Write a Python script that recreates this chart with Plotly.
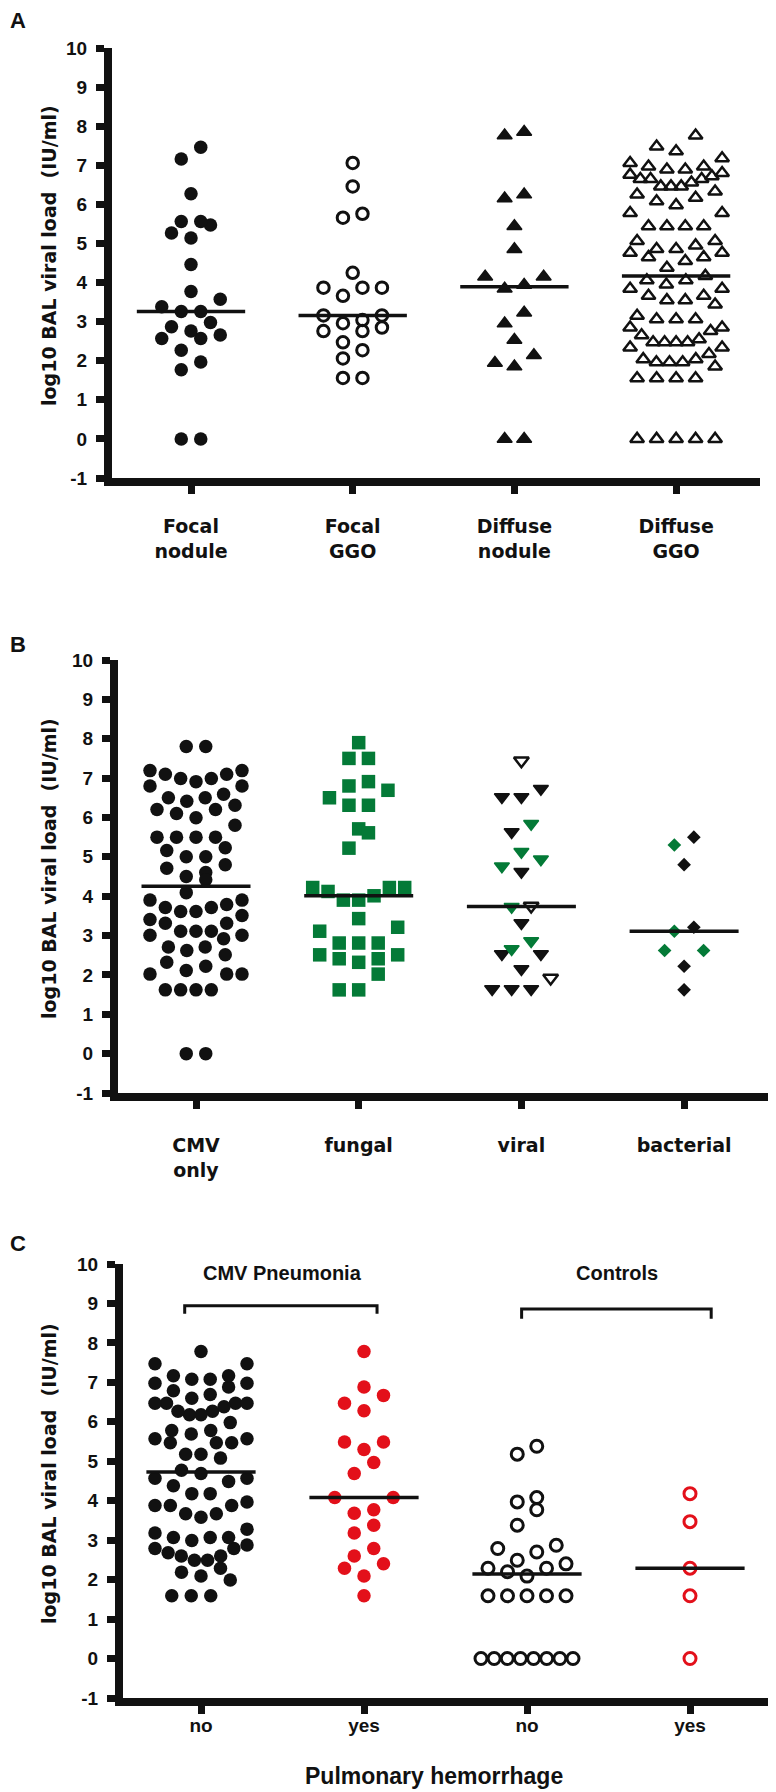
import numpy as np
import plotly.graph_objects as go

INK = "#111111"
GREEN = "#047a37"
RED = "#e3101a"
NUM_FONT = "Liberation Sans, Arial, sans-serif"
TXT_FONT = "DejaVu Sans, sans-serif"

# ---- panel A: CT pattern ----
cats_a = ["Focal<br>nodule", "Focal<br>GGO", "Diffuse<br>nodule", "Diffuse<br>GGO"]
focal_nodule = [7.46, 7.16, 6.27, 5.56, 5.47, 5.56, 5.14, 5.27, 4.46, 3.77, 3.57, 3.26, 3.26,
                3.38, 2.87, 2.98, 2.66, 2.57, 2.57, 2.76, 2.27, 1.97, 1.77, 0, 0]
focal_ggo = [7.06, 6.46, 5.76, 5.66, 4.25, 3.87, 3.87, 3.87, 3.66, 3.16, 3.16, 3.04, 2.96, 2.85,
             2.76, 2.76, 2.47, 2.27, 2.06, 1.56, 1.56]
diffuse_nodule = [7.76, 7.85, 6.25, 6.15, 5.44, 4.85, 4.15, 4.15, 3.84, 3.94, 3.23, 2.95, 2.53,
                  2.14, 1.94, 1.85, 0, 0]
diffuse_ggo = [7.76, 7.48, 7.36, 7.18, 7.06, 6.97, 6.89, 6.89, 6.97, 6.76,
               6.65, 6.65, 6.56, 6.72, 6.80, 6.65, 6.46, 6.33, 6.25, 6.46,
               6.46, 6.17, 6.08, 5.98, 5.78, 5.78, 5.44, 5.44, 5.44, 5.44,
               5.06, 5.06, 4.86, 4.76, 4.65, 4.55, 4.65, 4.76, 4.86, 4.95,
               4.38, 4.17, 3.84, 4.06, 3.95, 4.06, 3.84, 3.66, 3.55, 3.44,
               3.55, 3.66, 3.06, 3.06, 2.85, 2.76, 2.85, 3.06, 3.15, 2.65,
               2.47, 2.47, 2.34, 2.17, 2.34, 2.47, 2.47, 2.55, 1.96, 1.96,
               2.04, 2.04, 1.85, 1.96, 1.55, 1.55, 1.55, 1.55, 0, 0, 0, 0, 0]

# ---- panel B: co-infection ----
cats_b = ["CMV<br>only", "fungal", "viral", "bacterial"]
cmv_only = [7.80, 7.80, 7.19, 7.10, 6.99, 6.91, 6.99, 7.10, 7.19, 6.80, 6.80, 6.50, 6.41, 6.31,
            6.50, 6.59, 6.20, 6.10, 5.99, 6.20, 5.80, 5.50, 5.50, 5.50, 5.50, 5.23, 5.16, 5.00,
            5.00, 4.80, 4.71, 4.60, 4.50, 4.42, 4.09, 3.90, 3.79, 3.71, 3.61, 3.41, 3.51, 3.61,
            3.71, 3.90, 3.31, 3.11, 3.11, 3.01, 2.92, 3.01, 3.11, 3.31, 2.71, 2.51, 2.62, 2.71,
            2.11, 2.02, 2.22, 2.32, 2.02, 2.02, 1.62, 1.62, 1.62, 1.62, 0, 0]
fungal = [7.90, 7.50, 7.50, 6.69, 6.91, 6.80, 6.50, 6.31, 6.31, 5.71, 5.61, 5.22, 4.22, 4.22,
          4.22, 4.12, 3.90, 4.01, 3.90, 3.43, 3.21, 3.11, 2.81, 2.81, 2.81, 2.51, 2.51, 2.41,
          2.41, 2.32, 2.02, 1.62, 1.62]
viral = [7.44, 6.73, 6.52, 6.52, 5.84, 5.63, 5.13, 4.94, 4.76, 4.62, 3.75, 3.73, 3.32, 2.86,
         2.66, 2.53, 2.53, 2.15, 1.92, 1.64, 1.64, 1.64]
viral_type = ["open", "black", "black", "black", "green", "black", "green", "green", "green",
              "black", "open", "green", "black", "green", "green", "black", "black", "black",
              "open", "black", "black", "black"]
bacterial = [5.50, 5.30, 4.80, 3.21, 3.11, 2.62, 2.62, 2.22, 1.62]
bacterial_type = ["black", "green", "black", "black", "green", "green", "green", "black", "black"]

# ---- panel C: pulmonary hemorrhage ----
cats_c = ["no", "yes", "no", "yes"]
pneu_no = [7.78, 7.47, 7.47, 7.17, 7.08, 6.98, 6.88, 6.69, 6.79, 6.98, 7.08, 7.17,
           6.47, 6.47, 6.60, 6.27, 6.18, 6.18, 6.47, 6.27, 6.38, 6.47,
           5.98, 5.78, 5.57, 5.47, 5.47, 5.47, 5.57, 5.69, 5.78,
           5.18, 5.08, 5.18, 4.77, 4.69, 4.57, 4.38, 4.49, 4.57, 4.18, 4.18,
           3.88, 3.88, 3.67, 3.58, 3.67, 3.88, 3.97,
           3.28, 3.07, 3.07, 2.88, 2.79, 2.79, 2.99, 3.07, 3.18,
           2.60, 2.49, 2.29, 2.19, 2.49, 2.60, 2.68, 2.09, 1.99, 1.59, 1.59, 1.59]
pneu_yes = [7.78, 6.88, 6.67, 6.47, 6.28, 5.49, 5.49, 5.30, 4.97, 4.69, 4.08, 4.08, 3.68, 3.77,
            3.38, 3.18, 2.79, 2.60, 2.40, 2.29, 2.09, 1.59]
ctrl_no = [5.38, 5.18, 4.08, 3.97, 3.77, 3.38, 2.87, 2.79, 2.70, 2.49, 2.29, 2.20, 2.29, 2.40,
           2.09, 1.59, 1.59, 1.59, 1.59, 1.59, 0, 0, 0, 0, 0, 0, 0, 0]
ctrl_yes = [4.18, 3.47, 2.29, 1.59, 0]

y_ticks = list(range(-1, 11))


def swarm(vals, px_per_x, bin_h=0.4, gap=19.5, max_w=92):
    # column scatter: group close values into rows, spread each row symmetrically
    vals = np.asarray(vals, float)
    order = np.argsort(vals, kind="stable")
    offs = np.zeros(len(vals))
    i = 0
    while i < len(order):
        j = i
        while j < len(order) and vals[order[j]] - vals[order[i]] < bin_h:
            j += 1
        idx = order[i:j]
        n = len(idx)
        step = gap if n < 2 else min(gap, max_w / (n - 1))
        slots = (np.arange(n) - (n - 1) / 2) * step
        slots = slots[np.argsort(np.abs(slots), kind="stable")]
        offs[idx] = slots / px_per_x
        i = j
    return offs


fig = go.Figure()


def add_group(vals, pos, px_per_x, xa, ya, styles, kinds=None):
    vals = np.asarray(vals, float)
    x = pos + swarm(vals, px_per_x)
    if kinds is None:
        kinds = ["_"] * len(vals)
    kinds = np.asarray(kinds)
    for k, marker in styles.items():
        m = kinds == k
        fig.add_trace(go.Scatter(x=x[m], y=vals[m], mode="markers", marker=marker,
                                 xaxis=xa, yaxis=ya, hoverinfo="y"))
    med = float(np.median(vals))
    fig.add_trace(go.Scatter(x=[pos - 0.335, pos + 0.335], y=[med, med], mode="lines",
                             line=dict(color=INK, width=3.5), xaxis=xa, yaxis=ya,
                             hoverinfo="skip"))


dot = lambda c: dict(symbol="circle", size=13.5, color=c, line=dict(width=0))
ring = lambda c: dict(symbol="circle-open", size=11.5, color=c, line=dict(width=3, color=c))

# A
add_group(focal_nodule, 0, 161.7, "x", "y", {"_": dot(INK)})
add_group(focal_ggo, 1, 161.7, "x", "y", {"_": ring(INK)})
add_group(diffuse_nodule, 2, 161.7, "x", "y",
          {"_": dict(symbol="triangle-up", size=13, color=INK, line=dict(width=1.5, color=INK))})
add_group(diffuse_ggo, 3, 161.7, "x", "y",
          {"_": dict(symbol="triangle-up-open", size=12, color=INK, line=dict(width=2.5, color=INK))})

# B
add_group(cmv_only, 0, 162.7, "x2", "y2", {"_": dot(INK)})
add_group(fungal, 1, 162.7, "x2", "y2",
          {"_": dict(symbol="square", size=13.5, color=GREEN, line=dict(width=0))})
tri = lambda c: dict(symbol="triangle-down", size=13, color=c, line=dict(width=1.5, color=c))
add_group(viral, 2, 162.7, "x2", "y2",
          {"black": tri(INK), "green": tri(GREEN),
           "open": dict(symbol="triangle-down-open", size=13, color=INK,
                        line=dict(width=2.5, color=INK))},
          viral_type)
dia = lambda c: dict(symbol="diamond", size=10.5, color=c, line=dict(width=0))
add_group(bacterial, 3, 162.7, "x2", "y2", {"black": dia(INK), "green": dia(GREEN)},
          bacterial_type)

# C
add_group(pneu_no, 0, 163, "x3", "y3", {"_": dot(INK)})
add_group(pneu_yes, 1, 163, "x3", "y3", {"_": dot(RED)})
add_group(ctrl_no, 2, 163, "x3", "y3", {"_": dict(symbol="circle-open", size=12, color=INK,
                                                   line=dict(width=3, color=INK))})
add_group(ctrl_yes, 3, 163, "x3", "y3", {"_": dict(symbol="circle-open", size=12, color=RED,
                                                    line=dict(width=3, color=RED))})

# the page body has an 8px margin, so the figure is laid out in page pixels minus 8
OFF = 8
W, H = 776 - OFF, 1792 - OFF
px = lambda p: (p - OFF) / W
py = lambda p: 1 - (p - OFF) / H
LW = 8


def yax(top, bottom, anchor):
    return dict(domain=[py(bottom), py(top)], range=[-1, 10], anchor=anchor,
                automargin=False, tickmode="array", tickvals=y_ticks,
                ticktext=[str(v) for v in y_ticks],
                showline=True, linewidth=LW, linecolor=INK, ticks="outside", ticklen=8,
                tickwidth=7, tickcolor=INK, showgrid=False, zeroline=False,
                tickfont=dict(family=NUM_FONT, size=19, color=INK, weight="bold"),
                ticklabelstandoff=5)


def xax(left, right, tick0, step, anchor, text, font, standoff):
    left += LW / 2
    return dict(domain=[px(left), px(right)],
                range=[(left - tick0) / step, (right - tick0) / step], anchor=anchor,
                automargin=False, tickmode="array", tickvals=[0, 1, 2, 3], ticktext=text,
                showline=True, linewidth=LW, linecolor=INK, ticks="outside", ticklen=8,
                tickwidth=7, tickcolor=INK, showgrid=False, zeroline=False,
                tickfont=dict(family=font, size=19, color=INK, weight="bold"),
                ticklabelstandoff=standoff)


ytitle = "log10 BAL viral load  (IU/ml)"
annotations = []
for letter, ly in [("A", 20), ("B", 644), ("C", 1243)]:
    annotations.append(dict(text=letter, x=px(18), y=py(ly), xref="paper", yref="paper",
                            showarrow=False, xanchor="center", yanchor="middle",
                            font=dict(family=NUM_FONT, size=22, color=INK, weight="bold")))
for cy in [256, 869, 1474]:
    annotations.append(dict(text=ytitle, x=px(49), y=py(cy), xref="paper", yref="paper",
                            showarrow=False, textangle=-90, xanchor="center", yanchor="middle",
                            font=dict(family=TXT_FONT, size=19, color=INK, weight="bold")))
for label, lx in [("CMV Pneumonia", 0.5), ("Controls", 2.55)]:
    annotations.append(dict(text=label, x=lx, y=9.77, xref="x3", yref="y3", showarrow=False,
                            font=dict(family=NUM_FONT, size=20, color=INK, weight="bold")))
annotations.append(dict(text="Pulmonary hemorrhage", x=px(434), y=py(1776), xref="paper",
                        yref="paper", showarrow=False, xanchor="center", yanchor="middle",
                        font=dict(family=NUM_FONT, size=23, color=INK, weight="bold")))

shapes = []
for x0, x1, ytop, ybot in [(-0.1, 1.08, 8.94, 8.74), (1.967, 3.13, 8.86, 8.61)]:
    shapes.append(dict(type="path", xref="x3", yref="y3",
                       path=f"M {x0},{ybot} L {x0},{ytop} L {x1},{ytop} L {x1},{ybot}",
                       line=dict(color=INK, width=3)))

fig.update_layout(
    width=W, height=H, margin=dict(l=0, r=0, t=0, b=0, autoexpand=False),
    paper_bgcolor="white", plot_bgcolor="white", showlegend=False,
    xaxis=xax(108, 760, 191, 161.7, "y", cats_a, TXT_FONT, 16),
    yaxis=yax(48, 478, "x"),
    xaxis2=xax(114, 769, 196, 162.7, "y2", cats_b, TXT_FONT, 20),
    yaxis2=yax(660, 1093, "x2"),
    xaxis3=xax(119, 775, 201, 163, "y3", cats_c, NUM_FONT, -5),
    yaxis3=yax(1264, 1698, "x3"),
    annotations=annotations, shapes=shapes,
)

fig.write_html("out.html")
